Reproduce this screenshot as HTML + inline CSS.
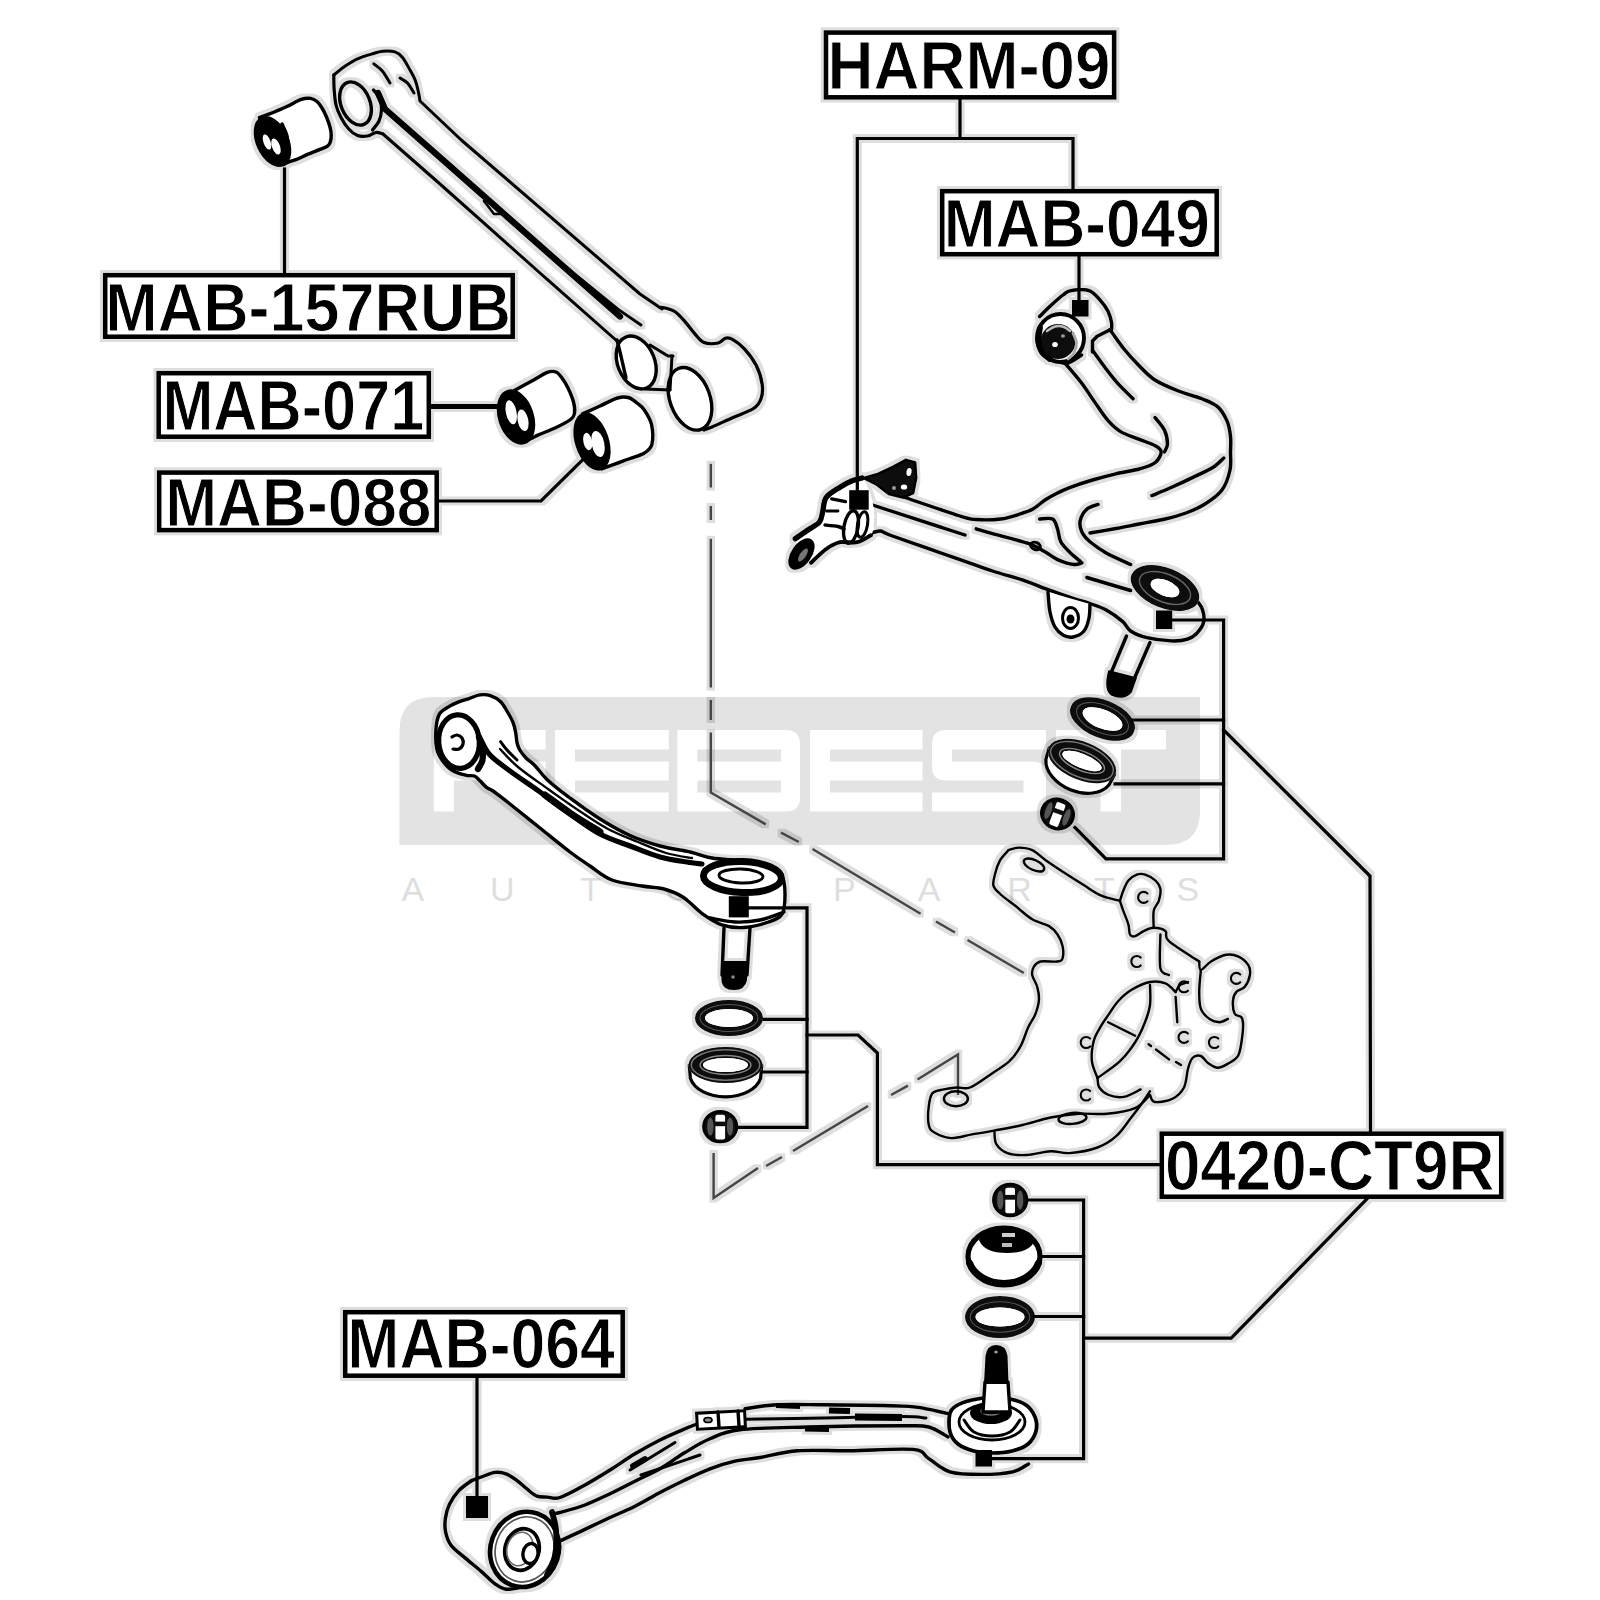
<!DOCTYPE html>
<html><head><meta charset="utf-8"><title>FEBEST diagram</title>
<style>html,body{margin:0;padding:0;background:#fff;width:1600px;height:1600px;overflow:hidden}
svg{display:block;font-family:"Liberation Sans",sans-serif}</style></head>
<body><svg width="1600" height="1600" viewBox="0 0 1600 1600">
<defs><filter id="halo" x="0" y="0" width="1600" height="1600" filterUnits="userSpaceOnUse">
<feMorphology in="SourceAlpha" operator="dilate" radius="2.5" result="d"/>
<feFlood flood-color="#000" flood-opacity="0.13"/>
<feComposite in2="d" operator="in" result="h"/>
<feMerge><feMergeNode in="h"/><feMergeNode in="SourceGraphic"/></feMerge>
</filter></defs>
<rect width="1600" height="1600" fill="#fff"/>
<path d="M399.5,845 L399.5,731 Q399.5,697 433.5,697 L1200,697 L1200,811 Q1200,845 1166,845 Z" fill="#e3e3e3"/>
<path d="M433.8,730 H545.6 V749.5 H453.8 V761.5 H545.6 V780.5 H453.8 V811.5 H433.8Z" fill="#fff"/>
<path d="M555,730 H668.8 V749.5 H575 V761.5 H668.8 V780.5 H575 V792.5 H668.8 V811.5 H555 Z" fill="#fff"/>
<path d="M810,730 H922.5 V749.5 H830 V761.5 H922.5 V780.5 H830 V792.5 H922.5 V811.5 H810 Z" fill="#fff"/>
<path d="M677.4,730 H786 Q800,730 800,744 V797.5 Q800,811.5 786,811.5 H677.4 Z M697.4,749.5 V761.5 H781 V749.5 Z M697.4,780.5 V792.5 H781 V780.5 Z" fill="#fff" fill-rule="evenodd"/>
<path d="M946,730 H1046 V749.5 H952 V761.5 H1032 Q1046,761.5 1046,775.5 V797.5 Q1046,811.5 1032,811.5 H932 V792.5 H1023.5 V780.5 H946 Q932,780.5 932,766.5 V744 Q932,730 946,730 Z" fill="#fff"/>
<path d="M1056,730 H1166 V749.5 H1121 V811.5 H1100.5 V749.5 H1056Z" fill="#fff"/>
<text x="401.4" y="901.4" font-family="Liberation Sans" font-size="34" fill="#dedede">A</text>
<text x="489.9" y="901.4" font-family="Liberation Sans" font-size="34" fill="#dedede">U</text>
<text x="580.2" y="901.4" font-family="Liberation Sans" font-size="34" fill="#dedede">T</text>
<text x="665.2" y="901.4" font-family="Liberation Sans" font-size="34" fill="#dedede">O</text>
<text x="833.1" y="901.4" font-family="Liberation Sans" font-size="34" fill="#dedede">P</text>
<text x="917.8" y="901.4" font-family="Liberation Sans" font-size="34" fill="#dedede">A</text>
<text x="1007.2" y="901.4" font-family="Liberation Sans" font-size="34" fill="#dedede">R</text>
<text x="1093.9" y="901.4" font-family="Liberation Sans" font-size="34" fill="#dedede">T</text>
<text x="1176.4" y="901.4" font-family="Liberation Sans" font-size="34" fill="#dedede">S</text>
<g filter="url(#halo)">
<path d="M710.8,463.8 L710.8,487.5" stroke="#444" stroke-width="2.4" fill="none"/>
<path d="M710.8,506 L710.8,520" stroke="#444" stroke-width="2.4" fill="none"/>
<path d="M710.8,538.8 L710.8,687.5" stroke="#444" stroke-width="2.4" fill="none"/>
<path d="M710.8,700 L710.8,720" stroke="#444" stroke-width="2.4" fill="none"/>
<path d="M710.8,732.5 L710.8,792.5 L765.8,824.4" stroke="#444" stroke-width="2.4" fill="none"/>
<path d="M781,832.6 L798.8,842" stroke="#444" stroke-width="2.4" fill="none"/>
<path d="M812.5,849 L920.6,913.8" stroke="#444" stroke-width="2.4" fill="none"/>
<path d="M936,921.5 L955,932.5" stroke="#444" stroke-width="2.4" fill="none"/>
<path d="M967.5,940 L1023.8,973" stroke="#444" stroke-width="2.4" fill="none"/>
<path d="M713.6,1153 L713.6,1198 L758,1168" stroke="#444" stroke-width="2.4" fill="none"/>
<path d="M766,1166 L782,1157" stroke="#444" stroke-width="2.4" fill="none"/>
<path d="M793,1151 L868,1106" stroke="#444" stroke-width="2.4" fill="none"/>
<path d="M891,1095 L908,1085.6" stroke="#444" stroke-width="2.4" fill="none"/>
<path d="M917.5,1079.4 L958,1054.4 L958,1095" stroke="#444" stroke-width="2.4" fill="none"/>
<path d="M471.6,1480.6 C473.4,1479.9 478.7,1477.9 482.6,1476.5 C486.5,1475.1 491.1,1472.9 495,1472.4 C498.9,1471.9 502.3,1472.4 506,1473.8 C509.7,1475.1 513.8,1478.3 517,1480.6 C520.2,1482.9 522,1485 525.2,1487.5 C528.5,1490 532.6,1494.2 536.2,1495.8 C539.9,1497.3 543.3,1496.8 547.2,1497.1 C551.2,1497.4 553.7,1499.5 560,1497.5 C566.3,1495.5 576.7,1489.6 585,1485 C593.3,1480.4 601.7,1475.2 610,1470 C618.3,1464.8 626.7,1458.8 635,1453.8 C643.3,1448.8 651.7,1444.2 660,1440 C668.3,1435.8 678.8,1431.4 685,1428.8 C691.2,1426.1 695,1424.8 697,1424" fill="none" stroke="#000" stroke-width="3.4" stroke-linecap="round" stroke-linejoin="round" />
<path d="M471.6,1480.6 C469.5,1482.2 462.9,1486.3 459.2,1490.2 C455.6,1494.2 451.9,1499.4 449.6,1504 C447.3,1508.6 446.2,1513.2 445.5,1517.8 C444.8,1522.3 444.6,1526.9 445.5,1531.5 C446.4,1536.1 447.8,1540.9 451,1545.2 C454.2,1549.6 459.7,1553.2 464.8,1557.6 C469.8,1562 476.2,1567 481.2,1571.4 C486.3,1575.8 490.9,1580.8 495,1583.8 C499.1,1586.7 501.4,1588.7 506,1589.2 C510.6,1589.8 519.8,1587.4 522.5,1587" fill="none" stroke="#000" stroke-width="3.4" stroke-linecap="round" stroke-linejoin="round" />
<path d="M745,1408.8 C750.2,1408.1 763.4,1405.5 776.5,1404.8 C789.6,1404.1 802.8,1404.6 823.8,1404.8 C844.8,1405 885.4,1405.4 902.5,1406.1 C919.6,1406.8 918.2,1407.4 926.1,1408.8 C934,1410.1 945.8,1413.1 949.8,1414" fill="none" stroke="#000" stroke-width="3.4" stroke-linecap="round" stroke-linejoin="round" />
<path d="M554,1513.6 C555,1513.4 554.8,1513.9 560,1512.5 C565.2,1511.1 576.7,1508.1 585,1505 C593.3,1501.9 601.7,1497.7 610,1493.8 C618.3,1489.8 626.7,1485.4 635,1481.2 C643.3,1477.1 651.7,1473.5 660,1468.8 C668.3,1464 676.7,1457.5 685,1452.5 C693.3,1447.5 700.9,1442.5 710,1438.8 C719.1,1435 723.4,1431.7 739.8,1429.8 C756.1,1427.8 780.9,1427.7 808,1427 C835.1,1426.3 882.4,1425.8 902.5,1425.8 C922.6,1425.8 921.2,1425.1 928.8,1427 C936.3,1428.9 944.8,1435.3 948,1437" fill="none" stroke="#000" stroke-width="3.4" stroke-linecap="round" stroke-linejoin="round" />
<path d="M559.6,1541.1 C562.6,1539.7 569.1,1536.8 577.5,1532.9 C585.9,1529 600.4,1521.9 610,1517.5 C619.6,1513.1 626.7,1510.4 635,1506.2 C643.3,1502.1 651.7,1496.9 660,1492.5 C668.3,1488.1 676.7,1484 685,1480 C693.3,1476 701.7,1471.9 710,1468.8 C718.3,1465.6 726.7,1463.1 735,1461.2 C743.3,1459.4 749.6,1459.2 760,1457.5 C770.4,1455.8 782.5,1451.9 797.5,1450.8 C812.5,1449.6 830.8,1451 850,1450.8 C869.2,1450.5 899.9,1448.1 913,1449.4 C926.1,1450.7 922.6,1454.9 928.8,1458.6 C934.9,1462.3 941,1469.1 949.8,1471.8 C958.5,1474.4 970.7,1474.4 981.2,1474.4 C991.7,1474.4 1004.8,1473.5 1012.7,1471.8 C1020.6,1470 1025.9,1465.2 1028.5,1463.9" fill="none" stroke="#000" stroke-width="3.4" stroke-linecap="round" stroke-linejoin="round" />
<path d="M745,1419.2 C758.1,1419 797.5,1418.4 823.8,1418 C850,1417.6 885.5,1416.6 902.5,1416.6 C919.5,1416.6 922.1,1417.8 926,1418" fill="none" stroke="#000" stroke-width="3" stroke-linecap="round" stroke-linejoin="round" />
<path d="M776,1406 L800,1407" fill="none" stroke="#000" stroke-width="4" stroke-linejoin="round" stroke-linecap="butt"/>
<path d="M829,1410.5 L850,1411" fill="none" stroke="#000" stroke-width="5.8" stroke-linejoin="round" stroke-linecap="butt"/>
<path d="M855,1417 L902,1417.5" fill="none" stroke="#000" stroke-width="6.9" stroke-linejoin="round" stroke-linecap="butt"/>
<path d="M805,1429 L829,1429.5" fill="none" stroke="#000" stroke-width="5.2" stroke-linejoin="round" stroke-linecap="butt"/>
<path d="M630,1470 L675,1442.5" fill="none" stroke="#000" stroke-width="3" stroke-linecap="round" stroke-linejoin="round" />
<path d="M641,1475 L700,1455" fill="none" stroke="#000" stroke-width="3" stroke-linecap="round" stroke-linejoin="round" />
<path d="M633,1466 L645,1459" fill="none" stroke="#000" stroke-width="5.8" stroke-linecap="round" stroke-linejoin="round" />
<rect x="697" y="1412" width="48" height="16" fill="#fff" stroke="#000" stroke-width="3" transform="rotate(-3 721 1420)"/>
<path d="M718,1412 L719,1427" fill="none" stroke="#000" stroke-width="3.4" stroke-linecap="round" stroke-linejoin="round" />
<path d="M738,1411 L739,1426" fill="none" stroke="#000" stroke-width="3.4" stroke-linecap="round" stroke-linejoin="round" />
<ellipse cx="708" cy="1420" rx="4" ry="2.5" transform="rotate(0 708 1420)" fill="#888" stroke="#000" stroke-width="1.7"/>
<ellipse cx="524.6" cy="1549.4" rx="34" ry="38" transform="rotate(20 524.6 1549.4)" fill="#fff" stroke="#000" stroke-width="4.6"/>
<ellipse cx="524.6" cy="1549.4" rx="29" ry="33" transform="rotate(20 524.6 1549.4)" fill="none" stroke="#555" stroke-width="1.7"/>
<ellipse cx="522" cy="1549.5" rx="17" ry="21" transform="rotate(15 522 1549.5)" fill="#fff" stroke="#000" stroke-width="3.7"/>
<ellipse cx="520" cy="1549" rx="13" ry="17" transform="rotate(15 520 1549)" fill="none" stroke="#666" stroke-width="1.6"/>
<ellipse cx="530.5" cy="1553.5" rx="7.5" ry="10" transform="rotate(10 530.5 1553.5)" fill="#fff" stroke="#000" stroke-width="3.4"/>
<path d="M552,1512 C552.7,1515 555.5,1522.7 556,1530 C556.5,1537.3 556.5,1548.5 555,1556 C553.5,1563.5 548.3,1571.8 547,1575" fill="none" stroke="#000" stroke-width="5.8" stroke-linecap="round" stroke-linejoin="round" />
<path d="M949.8,1414 C948.8,1418.3 948.6,1427 950,1432 C951.4,1437 954,1440.8 958,1444 C962,1447.2 968.3,1449.5 974,1451 C979.7,1452.5 985.7,1453 992,1453 C998.3,1453 1006,1452.5 1012,1451 C1018,1449.5 1024,1447.3 1028,1444 C1032,1440.7 1034.8,1435.5 1036,1431 C1037.2,1426.5 1036.7,1421.3 1035,1417 C1033.3,1412.7 1030.2,1408 1026,1405 C1021.8,1402 1015.7,1400.2 1010,1399 C1004.3,1397.8 998.3,1397.3 992,1397.5 C985.7,1397.7 978,1398.6 972,1400 C966,1401.4 959.7,1403.7 956,1406 C952.3,1408.3 950.8,1409.7 949.8,1414Z" fill="#fff" stroke="#000" stroke-width="3.7" stroke-linecap="round" stroke-linejoin="round" />
<ellipse cx="992" cy="1422" rx="33" ry="18" transform="rotate(0 992 1422)" fill="none" stroke="#000" stroke-width="2.8"/>
<path d="M964,1420 C965.7,1422 969.3,1429.3 974,1432 C978.7,1434.7 986,1436 992,1436 C998,1436 1005.3,1434.7 1010,1432 C1014.7,1429.3 1018.3,1422 1020,1420" fill="none" stroke="#000" stroke-width="3" stroke-linecap="round" stroke-linejoin="round" />
<ellipse cx="991" cy="1413" rx="21" ry="11" transform="rotate(0 991 1413)" fill="#000" stroke="#000" stroke-width="0"/>
<ellipse cx="991" cy="1411" rx="10" ry="4" transform="rotate(0 991 1411)" fill="none" stroke="#777" stroke-width="1.4"/>
<path d="M983,1412 L985,1382 L1008,1382 L1010,1412 Z" fill="#fff" stroke="#000" stroke-width="3.4" stroke-linecap="round" stroke-linejoin="round" />
<path d="M984,1384 L985.5,1356 Q987,1345 996,1345 Q1006,1345 1007.5,1356 L1008.5,1384 Z" fill="#000" stroke="#000" stroke-width="0" stroke-linecap="round" stroke-linejoin="round" />
<ellipse cx="996" cy="1352" rx="1.8" ry="1.5" transform="rotate(0 996 1352)" fill="#999" stroke="#000" stroke-width="0"/>
<path d="M1008.6,850.1 C1010.3,849.7 1014.8,847.6 1018.7,847.6 C1022.6,847.6 1027.7,848 1032.2,850.1 C1036.7,852.2 1040.1,856.3 1045.7,860.2 C1051.3,864.2 1059.4,869.5 1065.9,873.8 C1072.4,878 1078.6,881.9 1084.5,885.6 C1090.4,889.3 1095.5,893.2 1101.4,895.7 C1107.3,898.2 1116.8,899.9 1119.9,900.8" fill="none" stroke="#000" stroke-width="2.4" stroke-linecap="round" stroke-linejoin="round" />
<path d="M1119.9,900.8 C1120.5,899.1 1121.9,894 1123.3,890.6 C1124.7,887.2 1126.2,883.2 1128.4,880.5 C1130.7,877.8 1134,875.6 1136.8,874.6 C1139.6,873.6 1142.2,873.6 1145.2,874.6 C1148.3,875.6 1152.9,878.1 1155.4,880.5 C1157.9,882.9 1159.8,885.5 1160.4,888.9 C1161,892.3 1159.9,897.1 1158.8,900.8 C1157.6,904.4 1154.5,906.4 1153.7,910.9 C1152.9,915.4 1153.7,924.9 1153.7,927.8" fill="none" stroke="#000" stroke-width="2.4" stroke-linecap="round" stroke-linejoin="round" />
<path d="M1119.9,900.8 C1120.5,902.4 1121.9,907 1123.3,910.9 C1124.7,914.8 1127.3,920.5 1128.4,924.4 C1129.5,928.3 1128.9,932.5 1130,934.5 C1131.1,936.5 1132.8,936.8 1135.1,936.2 C1137.4,935.6 1140.5,932.5 1143.6,931.1 C1146.7,929.7 1150,927.8 1153.7,927.8 C1157.4,927.8 1163,928.9 1165.5,931.1 C1168,933.4 1163.3,936.2 1168.9,941.2 C1174.5,946.3 1194.2,958.1 1199.2,961.5" fill="none" stroke="#000" stroke-width="2.4" stroke-linecap="round" stroke-linejoin="round" />
<path d="M1160.4,934.5 C1160.4,940.1 1159,961.5 1160.4,968.2 C1161.8,975 1167.5,973.9 1168.9,975" fill="none" stroke="#000" stroke-width="2.4" stroke-linecap="round" stroke-linejoin="round" />
<path d="M1199.2,961.5 C1199.5,962.9 1198.9,970 1200.9,970 C1202.9,970 1206.8,964 1211,961.5 C1215.2,959 1221.8,955.6 1226.2,954.8 C1230.8,953.9 1234.3,954.7 1238,956.4 C1241.7,958.1 1246.2,961.8 1248.2,964.9 C1250.2,968 1250.5,971.4 1249.9,975 C1249.3,978.6 1247,984 1244.8,986.8 C1242.5,989.6 1238.4,989.6 1236.4,991.9 C1234.4,994.1 1233.3,996.6 1233,1000.3 C1232.7,1003.9 1233.3,1011 1234.7,1013.8 C1236.1,1016.6 1240,1015.2 1241.4,1017.2 C1242.8,1019.2 1243.1,1021.4 1243.1,1025.6 C1243.1,1029.8 1242.2,1037.4 1241.4,1042.5 C1240.6,1047.6 1240,1052.6 1238,1056 C1236,1059.4 1233,1060.8 1229.6,1062.8 C1226.2,1064.7 1221.4,1067.8 1217.8,1067.8 C1214.2,1067.8 1210.5,1064.7 1207.7,1062.8 C1204.9,1060.8 1203.4,1056.8 1200.9,1056 C1198.4,1055.2 1194.7,1055.9 1192.5,1058 C1190.3,1060.1 1189.4,1063.8 1188,1068.8 C1186.6,1073.7 1186.6,1082.5 1184,1087.5 C1181.4,1092.5 1177.3,1096.3 1172.5,1098.8 C1167.7,1101.2 1158.8,1102.6 1155,1102 C1151.2,1101.4 1150.8,1096.2 1150,1095" fill="none" stroke="#000" stroke-width="2.4" stroke-linecap="round" stroke-linejoin="round" />
<path d="M1200.9,970 C1200.6,973.6 1199.2,985.4 1199.2,991.9 C1199.2,998.4 1199.2,1004.2 1200.9,1008.8 C1202.6,1013.2 1206.3,1016.6 1209.4,1018.9 C1212.5,1021.1 1216.4,1022.2 1219.5,1022.2 C1222.6,1022.2 1226.5,1019.5 1227.9,1018.9" fill="none" stroke="#000" stroke-width="2.4" stroke-linecap="round" stroke-linejoin="round" />
<path d="M1008.6,850.1 C1007.2,851.8 1002.4,856.3 1000.1,860.2 C997.9,864.2 996.2,869.5 995.1,873.8 C994,878 992.6,882.2 993.4,885.6 C994.2,889 996.5,890.6 1000.1,894 C1003.8,897.4 1009.9,901.6 1015.3,905.8 C1020.6,910 1026.6,915.9 1032.2,919.3 C1037.8,922.7 1044.9,923.6 1049.1,926.1 C1053.3,928.6 1055.2,931.1 1057.5,934.5 C1059.8,937.9 1061.8,942.4 1062.6,946.3 C1063.4,950.2 1063.4,955.6 1062.6,958.1 C1061.8,960.6 1061.2,960.9 1057.5,961.5 C1053.8,962.1 1044.5,960.6 1040.6,961.5 C1036.7,962.4 1035.3,964.4 1033.9,966.6 C1032.5,968.9 1031.6,971.6 1032.2,975 C1032.8,978.4 1036.1,982.6 1037.2,986.8 C1038.4,991 1039.3,995.6 1038.9,1000.3 C1038.5,1005 1036.8,1010.5 1035,1015 C1033.2,1019.5 1030.5,1022.3 1028.1,1027.5 C1025.7,1032.7 1023.7,1040.6 1020.6,1046.2 C1017.5,1051.9 1014.4,1056.6 1009.4,1061.2 C1004.4,1065.9 997.2,1070 990.6,1074.4 C984,1078.8 975.6,1085.3 970,1087.5 C964.4,1089.7 961.3,1087.2 956.9,1087.5 C952.5,1087.8 947.8,1088.5 943.8,1089.4 C939.7,1090.3 935,1090.3 932.5,1093.1 C930,1095.9 929.4,1100.9 928.8,1106.2 C928.1,1111.6 927.8,1120.6 928.8,1125 C929.7,1129.4 930.6,1130.3 934.4,1132.5 C938.1,1134.7 945,1137.8 951.2,1138.1 C957.5,1138.4 964.7,1135.7 971.9,1134.4 C979.1,1133.2 986,1132.2 994.4,1130.6 C1002.8,1129 1013.1,1127.2 1022.5,1125 C1031.9,1122.8 1041.2,1119.4 1050.6,1117.5 C1060,1115.6 1069.4,1114.4 1078.8,1113.8 C1088.1,1113.1 1097.5,1114.7 1106.9,1113.8 C1116.3,1112.8 1127.8,1111.2 1135,1108.1 C1142.2,1105 1147.5,1097.2 1150,1095" fill="none" stroke="#000" stroke-width="2.4" stroke-linecap="round" stroke-linejoin="round" />
<path d="M994.4,1130.6 C994.7,1132.8 994.1,1140 996.2,1143.8 C998.4,1147.5 1002.5,1151.2 1007.5,1153.1 C1012.5,1155 1019.1,1155.3 1026.2,1155 C1033.4,1154.7 1043.4,1151.6 1050.6,1151.2 C1057.8,1150.9 1061.6,1153.7 1069.4,1153.1 C1077.2,1152.5 1089.7,1150.3 1097.5,1147.5 C1105.3,1144.7 1110.6,1141.2 1116.2,1136.2 C1121.9,1131.2 1126.9,1123.1 1131.2,1117.5 C1135.6,1111.9 1139.4,1106.9 1142.5,1102.5 C1145.6,1098.1 1148.8,1093.1 1150,1091.2" fill="none" stroke="#000" stroke-width="2.4" stroke-linecap="round" stroke-linejoin="round" />
<ellipse cx="1034" cy="865" rx="11" ry="5" transform="rotate(25 1034 865)" fill="none" stroke="#000" stroke-width="2.4"/>
<ellipse cx="1072.5" cy="1118.4" rx="14" ry="5.5" transform="rotate(-5 1072.5 1118.4)" fill="none" stroke="#000" stroke-width="2.4"/>
<ellipse cx="955.9" cy="1098.8" rx="12" ry="7.5" transform="rotate(0 955.9 1098.8)" fill="none" stroke="#000" stroke-width="2.4"/>
<path d="M1097.5,1078 C1096.6,1075.2 1092.5,1067.5 1091.9,1061.2 C1091.3,1055 1092.2,1046.5 1093.8,1040.6 C1095.3,1034.7 1098.8,1030 1101.2,1025.6 C1103.8,1021.2 1105.9,1018.5 1108.8,1014.4 C1111.6,1010.3 1114.3,1005.3 1118.1,1001.2 C1121.8,997.2 1125.9,993.2 1131.2,990 C1136.6,986.8 1144.3,983.1 1150,982 C1155.7,980.9 1161.2,981.7 1165.5,983.4 C1169.8,985.1 1173.9,990.6 1175.6,992" fill="none" stroke="#000" stroke-width="2.4" stroke-linecap="round" stroke-linejoin="round" />
<path d="M1097.5,1078 C1101.2,1075.2 1113.8,1067.2 1120,1061.2 C1126.2,1055.3 1130.9,1048.8 1135,1042.5 C1139.1,1036.2 1141.9,1030 1144.4,1023.8 C1146.9,1017.5 1149.1,1011.5 1150,1005 C1150.9,998.5 1150,988.3 1150,985" fill="none" stroke="#000" stroke-width="2.4" stroke-linecap="round" stroke-linejoin="round" />
<path d="M1097.5,1078 C1097.8,1079.6 1097.5,1084.7 1099.4,1087.5 C1101.3,1090.3 1104.7,1093.4 1108.8,1095 C1112.8,1096.6 1118.4,1097.8 1123.8,1096.9 C1129.1,1096 1137.8,1090.7 1140.6,1089.4" fill="none" stroke="#000" stroke-width="2.4" stroke-linecap="round" stroke-linejoin="round" />
<path d="M1108.1,1022.2 L1135.1,1035.8" fill="none" stroke="#000" stroke-width="2.4" stroke-linecap="round" stroke-linejoin="round" />
<path d="M1148.6,1044.2 L1151,1046" fill="none" stroke="#000" stroke-width="2.4" stroke-linecap="round" stroke-linejoin="round" />
<path d="M1156,1049.5 L1169,1059.4" fill="none" stroke="#000" stroke-width="2.4" stroke-linecap="round" stroke-linejoin="round" />
<path d="M1176,1062 L1181,1065" fill="none" stroke="#000" stroke-width="2.4" stroke-linecap="round" stroke-linejoin="round" />
<path d="M1175.6,997 L1177.3,1022.2" fill="none" stroke="#000" stroke-width="2.4" stroke-linecap="round" stroke-linejoin="round" />
<path d="M1175.6,992 C1176.3,990.8 1177.9,986.7 1180,985 C1182.1,983.3 1186.7,982.5 1188,982" fill="none" stroke="#000" stroke-width="2.4" stroke-linecap="round" stroke-linejoin="round" />
<path d="M1147.5,893.5 A5.5,5.5 0 1 0 1147.5,901.3" fill="none" stroke="#000" stroke-width="2.1" stroke-linecap="round"/>
<path d="M1240.3,974.5 A5.5,5.5 0 1 0 1240.3,982.3" fill="none" stroke="#000" stroke-width="2.1" stroke-linecap="round"/>
<path d="M1140.7,957.6 A5.5,5.5 0 1 0 1140.7,965.4" fill="none" stroke="#000" stroke-width="2.1" stroke-linecap="round"/>
<path d="M1187.9,1033.5 A5.5,5.5 0 1 0 1187.9,1041.3" fill="none" stroke="#000" stroke-width="2.1" stroke-linecap="round"/>
<path d="M1090.1,1038.6 A5.5,5.5 0 1 0 1090.1,1046.4" fill="none" stroke="#000" stroke-width="2.1" stroke-linecap="round"/>
<path d="M1090.1,1091.1 A5.5,5.5 0 1 0 1090.1,1098.9" fill="none" stroke="#000" stroke-width="2.1" stroke-linecap="round"/>
<path d="M1218.3,1038.6 A5.5,5.5 0 1 0 1218.3,1046.4" fill="none" stroke="#000" stroke-width="2.1" stroke-linecap="round"/>
<path d="M1187.9,982.9 A5.5,5.5 0 1 0 1187.9,990.7" fill="none" stroke="#000" stroke-width="2.1" stroke-linecap="round"/>
<path d="M695,1018 A34,18 0 1 0 763,1018 A34,18 0 1 0 695,1018 Z" fill="#fff"/>
<path d="M695,1018 A34,18 0 1 0 763,1018 A34,18 0 1 0 695,1018 Z M705,1018 A24,9 0 1 0 753,1018 A24,9 0 1 0 705,1018 Z" fill="#0a0a0a" fill-rule="evenodd"/>
<path d="M705,1018 A24,9 0 1 0 753,1018 A24,9 0 1 0 705,1018 Z" fill="#fff"/>
<ellipse cx="729" cy="1018" rx="29" ry="13.5" transform="rotate(0 729 1018)" fill="none" stroke="#555" stroke-width="1.1"/>
<g transform="translate(725.5 1065) rotate(0)">
<path d="M-36.2,0 L-35.1,13.3 A35.9,23.6 0 0 0 35.1,13.3 L36.2,0 Z" fill="#fff" stroke="#000" stroke-width="3.2" stroke-linejoin="round"/>
<path d="M-37,0 A37,18 0 1 0 37,0 A37,18 0 1 0 -37,0 Z" fill="#fff"/>
<path d="M-37,0 A37,18 0 1 0 37,0 A37,18 0 1 0 -37,0 Z M-22.5,0 A22.5,7 0 1 0 22.5,0 A22.5,7 0 1 0 -22.5,0 Z" fill="#0a0a0a" fill-rule="evenodd"/>
<path d="M-22.5,0 A22.5,7 0 1 0 22.5,0 A22.5,7 0 1 0 -22.5,0 Z" fill="#fff"/>
<ellipse cx="0" cy="0" rx="34.2" ry="15.2" transform="rotate(0 0 0)" fill="none" stroke="#777" stroke-width="1.4"/>
<ellipse cx="0" cy="0" rx="25.5" ry="9.5" transform="rotate(0 0 0)" fill="none" stroke="#888" stroke-width="1.4"/>
</g>
<g transform="translate(720.2 1126.6) rotate(0)">
<ellipse cx="0" cy="0" rx="16.9" ry="15.5" transform="rotate(0 0 0)" fill="#080808" stroke="#000" stroke-width="2.3"/>
<ellipse cx="-9.8" cy="0" rx="3.2" ry="9.1" transform="rotate(0 -9.8 0)" fill="#555" stroke="#000" stroke-width="0"/>
<ellipse cx="9.8" cy="0" rx="3.2" ry="9.1" transform="rotate(0 9.8 0)" fill="#555" stroke="#000" stroke-width="0"/>
<rect x="-4.8" y="-11.9" width="9.7" height="24.8" rx="2" fill="#fff"/>
<rect x="-6.3" y="-5" width="12.5" height="4.6" fill="#111"/>
</g>
<path d="M1071,706.3 A34,18 22 1 0 1134,731.7 A34,18 22 1 0 1071,706.3 Z" fill="#fff"/>
<path d="M1071,706.3 A34,18 22 1 0 1134,731.7 A34,18 22 1 0 1071,706.3 Z M1083,711.1 A21,9.5 22 1 0 1122,726.9 A21,9.5 22 1 0 1083,711.1 Z" fill="#0a0a0a" fill-rule="evenodd"/>
<path d="M1083,711.1 A21,9.5 22 1 0 1122,726.9 A21,9.5 22 1 0 1083,711.1 Z" fill="#fff"/>
<ellipse cx="1102.5" cy="719" rx="27.5" ry="13.8" transform="rotate(22 1102.5 719)" fill="none" stroke="#555" stroke-width="1.1"/>
<g transform="translate(1082 761) rotate(22)">
<path d="M-35.2,0 L-34.1,11.9 A34.9,24.3 0 0 0 34.1,11.9 L35.2,0 Z" fill="#fff" stroke="#000" stroke-width="3.2" stroke-linejoin="round"/>
<path d="M-36,0 A36,19 0 1 0 36,0 A36,19 0 1 0 -36,0 Z" fill="#fff"/>
<path d="M-36,0 A36,19 0 1 0 36,0 A36,19 0 1 0 -36,0 Z M-21,0 A21,7 0 1 0 21,0 A21,7 0 1 0 -21,0 Z" fill="#0a0a0a" fill-rule="evenodd"/>
<path d="M-21,0 A21,7 0 1 0 21,0 A21,7 0 1 0 -21,0 Z" fill="#fff"/>
<ellipse cx="0" cy="0" rx="33.2" ry="16.2" transform="rotate(0 0 0)" fill="none" stroke="#777" stroke-width="1.4"/>
<ellipse cx="0" cy="0" rx="24" ry="9.5" transform="rotate(0 0 0)" fill="none" stroke="#888" stroke-width="1.4"/>
</g>
<g transform="translate(1057.5 814) rotate(20)">
<ellipse cx="0" cy="0" rx="16.5" ry="15" transform="rotate(0 0 0)" fill="#080808" stroke="#000" stroke-width="2.3"/>
<ellipse cx="-9.6" cy="0" rx="3.1" ry="8.8" transform="rotate(0 -9.6 0)" fill="#555" stroke="#000" stroke-width="0"/>
<ellipse cx="9.6" cy="0" rx="3.1" ry="8.8" transform="rotate(0 9.6 0)" fill="#555" stroke="#000" stroke-width="0"/>
<rect x="-4.7" y="-11.5" width="9.5" height="24" rx="2" fill="#fff"/>
<rect x="-6.1" y="-4.8" width="12.2" height="4.5" fill="#111"/>
</g>
<g transform="translate(1010.2 1200) rotate(0)">
<ellipse cx="0" cy="0" rx="17" ry="16" transform="rotate(0 0 0)" fill="#080808" stroke="#000" stroke-width="2.3"/>
<ellipse cx="-9.9" cy="0" rx="3.2" ry="9.4" transform="rotate(0 -9.9 0)" fill="#555" stroke="#000" stroke-width="0"/>
<ellipse cx="9.9" cy="0" rx="3.2" ry="9.4" transform="rotate(0 9.9 0)" fill="#555" stroke="#000" stroke-width="0"/>
<rect x="-4.9" y="-12.2" width="9.7" height="25.5" rx="2" fill="#fff"/>
<rect x="-6.3" y="-5.1" width="12.6" height="4.8" fill="#111"/>
</g>
<ellipse cx="1004" cy="1256.5" rx="36" ry="28.5" transform="rotate(0 1004 1256.5)" fill="#fff" stroke="#000" stroke-width="5.2"/>
<path d="M969.5,1263 A36,28.5 0 0 0 1038.5,1263" fill="none" stroke="#000" stroke-width="6.9" stroke-linecap="round" stroke-linejoin="round" />
<path d="M979,1240 Q983,1228 1007,1227.5 Q1031,1228 1035,1240 Q1030,1253 1007,1253 Q984,1253 979,1240 Z" fill="#050505" stroke="#000" stroke-width="0" stroke-linecap="round" stroke-linejoin="round" />
<rect x="1002" y="1233" width="13" height="4" fill="#ccc"/>
<rect x="1002" y="1243" width="10" height="4" fill="#bbb"/>
<path d="M965,1317 A35,21 0 1 0 1035,1317 A35,21 0 1 0 965,1317 Z" fill="#fff"/>
<path d="M965,1317 A35,21 0 1 0 1035,1317 A35,21 0 1 0 965,1317 Z M975.5,1317 A24.5,9.5 0 1 0 1024.5,1317 A24.5,9.5 0 1 0 975.5,1317 Z" fill="#0a0a0a" fill-rule="evenodd"/>
<path d="M975.5,1317 A24.5,9.5 0 1 0 1024.5,1317 A24.5,9.5 0 1 0 975.5,1317 Z" fill="#fff"/>
<ellipse cx="1000" cy="1317" rx="29.8" ry="15.2" transform="rotate(0 1000 1317)" fill="none" stroke="#555" stroke-width="1.1"/>
<path d="M439.4,714.1 C441.6,710.3 445.7,708.7 449,706.6 C452.3,704.5 455.9,703.1 459.4,701.7 C462.8,700.3 466.3,699.4 469.7,698.3 C473.1,697.2 476.6,695.3 480,694.9 C483.4,694.5 486.9,694.5 490.3,695.6 C493.7,696.7 497.7,699 500.6,701.7 C503.5,704.4 505.4,708.5 507.5,712 C509.6,715.5 511.6,718.9 513,722.4 C514.4,725.9 515,729.3 515.7,732.7 C516.4,736.1 516.4,740.1 517.1,743 C517.8,745.9 518.3,747.5 519.8,750 C521.3,752.5 523.5,755.4 526,758 C528.5,760.6 531.4,762 535,765.7 C538.6,769.4 541.7,774.6 547.5,780 C553.3,785.4 561.2,791.5 570,798 C578.8,804.5 590,812.8 600,819 C610,825.2 620,831 630,835.5 C640,840 650,843.2 660,846 C670,848.8 681.3,850 690,852 C698.7,854 703.3,856.5 712,858 C720.7,859.5 732.3,859.8 742,861 C751.7,862.2 763.3,862.5 770,865 C776.7,867.5 779.5,871.1 782,876 C784.5,880.9 785,888.2 785,894.5 C785,900.8 785,909.2 782.2,913.8 C779.5,918.3 774.9,919.7 768.5,922 C762.1,924.3 751.5,927 743.8,927.5 C736,928 728.6,927 721.8,924.8 C714.9,922.5 708.9,918.3 702.5,913.8 C696.1,909.2 689.7,901.4 683.2,897.2 C676.8,893.1 670.9,890.9 664,889 C657.1,887.1 650.7,887.5 642,886 C633.3,884.5 620.7,883.3 612,880 C603.3,876.7 597,870.7 590,866 C583,861.3 578.3,858.3 570,852 C561.7,845.7 550,836 540,828 C530,820 517.8,810.2 510,804 C502.2,797.8 496.9,793.7 493,791 C489.1,788.3 489.1,789.4 486.9,787.7 C484.7,786 482.1,782.8 480,780.8 C477.9,778.8 476.8,776.9 474.5,776 C472.2,775.1 469.9,776.2 466.2,775.3 C462.5,774.4 456.5,773 452.5,770.5 C448.5,768 444.8,763.9 442.2,760.2 C439.6,756.5 437.7,753.7 436.7,748.5 C435.7,743.3 435.6,734.9 436,729.2 C436.4,723.5 437.2,717.9 439.4,714.1Z" fill="#fff" stroke="#000" stroke-width="3.4" stroke-linecap="round" stroke-linejoin="round" />
<path d="M481,740 C482.5,742.5 485.2,749.8 490,755 C494.8,760.2 501.7,764.8 510,771 C518.3,777.2 530,784.8 540,792 C550,799.2 560,807 570,814 C580,821 590,828.7 600,834 C610,839.3 620,842.2 630,846 C640,849.8 650,854.2 660,857 C670,859.8 683,861.3 690,862.5 C697,863.7 700,863.8 702,864" fill="none" stroke="#000" stroke-width="5.2" stroke-linecap="round" stroke-linejoin="round" />
<path d="M500,749 C503,752 510,760.3 518,767 C526,773.7 538,781.8 548,789 C558,796.2 568,803.3 578,810 C588,816.7 598,823.7 608,829 C618,834.3 628.3,838 638,842 C647.7,846 657,850.3 666,853 C675,855.7 687.7,857.2 692,858" fill="none" stroke="#000" stroke-width="2.3" stroke-linecap="round" stroke-linejoin="round" />
<path d="M545,795 C549.2,798 560.8,806.8 570,813 C579.2,819.2 595,828.8 600,832" fill="none" stroke="#000" stroke-width="6.9" stroke-linecap="round" stroke-linejoin="round" />
<path d="M500.6,741.6 C501.7,743 504.3,746.9 507,750 C509.7,753.1 515.3,758.3 517,760" fill="none" stroke="#000" stroke-width="3" stroke-linecap="round" stroke-linejoin="round" />
<ellipse cx="459" cy="741.6" rx="20.3" ry="26.8" transform="rotate(-5 459 741.6)" fill="#fff" stroke="#000" stroke-width="5.2"/>
<path d="M452,737 C452.8,736.7 455.3,734.8 457,735 C458.7,735.2 461,736.5 462,738 C463,739.5 463.5,742.2 463,744 C462.5,745.8 460.7,748.2 459,749 C457.3,749.8 454,749 453,749" fill="none" stroke="#000" stroke-width="3.2" stroke-linecap="round" stroke-linejoin="round" />
<path d="M479,737 C479.6,738.8 481.9,744.2 482.5,748 C483.1,751.8 483.2,756.5 482.5,760 C481.8,763.5 478.8,767.5 478,769" fill="none" stroke="#000" stroke-width="6.3" stroke-linecap="round" stroke-linejoin="round" />
<ellipse cx="742.4" cy="877" rx="39" ry="15.5" transform="rotate(2 742.4 877)" fill="#fff" stroke="#000" stroke-width="6.9"/>
<ellipse cx="741" cy="876" rx="22" ry="7" transform="rotate(2 741 876)" fill="#fff" stroke="#000" stroke-width="2.9"/>
<path d="M710,918 C714.2,918.7 726.7,921.7 735,922 C743.3,922.3 751.8,921.7 760,920 C768.2,918.3 780,913.3 784,912" fill="none" stroke="#000" stroke-width="3.4" stroke-linecap="round" stroke-linejoin="round" />
<path d="M724,928 L722,975" fill="none" stroke="#000" stroke-width="3.4" stroke-linecap="round" stroke-linejoin="round" />
<path d="M750,928 L747,975" fill="none" stroke="#000" stroke-width="3.4" stroke-linecap="round" stroke-linejoin="round" />
<path d="M721,961 L747.5,961 L747,980 Q745,990 734,990 Q722,990 721.5,980 Z" fill="#000" stroke="#000" stroke-width="0" stroke-linecap="round" stroke-linejoin="round" />
<ellipse cx="733" cy="977" rx="1.8" ry="1.8" transform="rotate(0 733 977)" fill="#888" stroke="#000" stroke-width="0"/>
<path d="M1109.7,330 C1110,330.3 1108.9,328.5 1111.2,331.6 C1113.6,334.7 1119.1,343 1123.8,348.8 C1128.4,354.5 1134.2,360.8 1139.4,366 C1144.6,371.2 1148.5,375.8 1155,380 C1161.5,384.2 1170.6,387.9 1178.4,391 C1186.2,394.1 1195.4,396.1 1201.9,398.8 C1208.4,401.4 1213.3,403 1217.5,406.6 C1221.7,410.2 1224.7,415.7 1226.9,420.6 C1229.1,425.5 1229.9,431 1230.5,436.2 C1231.1,441.5 1230.6,446.4 1230.5,452 C1230.4,457.6 1231.4,463.7 1230,470 C1228.6,476.3 1226.2,484.3 1222,490 C1217.8,495.7 1211,500.2 1205,504 C1199,507.8 1193,510.4 1186,513 C1179,515.6 1170.8,517.7 1163,519.5 C1155.2,521.3 1146.8,522.5 1139,524 C1131.2,525.5 1124.2,527 1116,528.5 C1107.8,530 1094.3,532.2 1090,533" fill="none" stroke="#000" stroke-width="3.4" stroke-linecap="round" stroke-linejoin="round" />
<path d="M1066,364.4 C1068.6,367.5 1076.7,376.6 1081.6,383.1 C1086.5,389.6 1091.2,397.1 1095.6,403.4 C1100,409.6 1103.9,415.9 1108.1,420.6 C1112.3,425.3 1115.4,428.5 1120.6,431.6 C1125.8,434.7 1133.7,437.1 1139.4,439.4 C1145.1,441.7 1151.4,443.5 1155,445.6 C1158.6,447.7 1161.2,449 1161.2,451.9 C1161.2,454.8 1158.6,459.9 1155,462.8 C1151.4,465.7 1145.9,467.2 1139.4,469 C1132.9,470.8 1123.7,471.9 1115.9,473.8 C1108.1,475.6 1100.3,477.7 1092.5,480 C1084.7,482.3 1074.8,485.6 1069,487.8 C1063.2,490 1061.5,491 1057.5,493 C1053.5,495 1049.1,497.3 1045,500 C1040.9,502.7 1037.2,506.7 1033,509 C1028.8,511.3 1025.4,512.3 1020,514 C1014.6,515.7 1007.9,518.1 1000.6,519 C993.3,519.9 983,520 976.2,519.5 C969.5,519 971.9,519.7 960,516 C948.1,512.3 914.2,500.6 905,497.5" fill="none" stroke="#000" stroke-width="3.4" stroke-linecap="round" stroke-linejoin="round" />
<path d="M1092.5,350.3 C1094.6,353.2 1100.8,362 1105,367.5 C1109.2,373 1112.8,377.9 1117.5,383.1 C1122.2,388.3 1130.5,396.1 1133.1,398.8" fill="none" stroke="#000" stroke-width="3.4" stroke-linecap="round" stroke-linejoin="round" />
<path d="M1155,417.5 C1156.6,419.6 1162.3,425.6 1164.4,430 C1166.5,434.4 1167.5,440.4 1167.5,444 C1167.5,447.6 1164.9,450.6 1164.4,451.9" fill="none" stroke="#000" stroke-width="3.4" stroke-linecap="round" stroke-linejoin="round" />
<path d="M1151.9,495.6 C1155,494.3 1163.6,490.9 1170.6,487.8 C1177.6,484.7 1187,480.3 1194,476.9 C1201,473.5 1207.8,470.6 1212.8,467.5 C1217.8,464.4 1221.9,459.6 1223.8,458" fill="none" stroke="#000" stroke-width="3.4" stroke-linecap="round" stroke-linejoin="round" />
<path d="M1039.6,316.5 C1041.4,314.8 1046.4,309.6 1050.3,306 C1054.2,302.4 1059.5,297.6 1063,295 C1066.5,292.4 1066.7,291.3 1071,290.6 C1075.3,289.9 1084.1,289 1089,290.6 C1093.9,292.2 1097.1,296.9 1100.3,300.3 C1103.5,303.7 1106.1,307.6 1108,311.2 C1109.9,314.9 1110.9,319.1 1111.5,322.2 C1112.1,325.3 1111.5,328.7 1111.5,330" fill="none" stroke="#000" stroke-width="3.4" stroke-linecap="round" stroke-linejoin="round" />
<path d="M1051.9,358 C1054.2,358.9 1061,364 1066,363.5 C1071,363 1079,356.4 1081.6,355" fill="none" stroke="#000" stroke-width="3.4" stroke-linecap="round" stroke-linejoin="round" />
<path d="M1109.7,330 L1097.2,336.2 L1092.5,341 L1092.5,352" fill="none" stroke="#000" stroke-width="3.4" stroke-linecap="round" stroke-linejoin="round" />
<ellipse cx="1060.5" cy="338" rx="23.5" ry="24" transform="rotate(0 1060.5 338)" fill="#fff" stroke="#000" stroke-width="3.9"/>
<ellipse cx="1058" cy="341.5" rx="17.5" ry="17.5" transform="rotate(0 1058 341.5)" fill="#111" stroke="#000" stroke-width="0"/>
<path d="M1040,328 C1039.8,330 1038.2,336 1038.5,340 C1038.8,344 1040.1,348.8 1042,352 C1043.9,355.2 1048.7,357.8 1050,359" fill="none" stroke="#000" stroke-width="5.8" stroke-linecap="round" stroke-linejoin="round" />
<path d="M1047,331 C1048.3,330.2 1052.2,327.2 1055,326.5 C1057.8,325.8 1061.5,326.2 1064,327 C1066.5,327.8 1069,330.3 1070,331" fill="none" stroke="#bbb" stroke-width="2.5" stroke-linecap="round" stroke-linejoin="round" />
<path d="M1073,333 C1073.6,334.7 1076.3,339.7 1076.5,343 C1076.7,346.3 1075.4,350.3 1074,353 C1072.6,355.7 1069,358 1068,359" fill="none" stroke="#aaa" stroke-width="2.8" stroke-linecap="round" stroke-linejoin="round" />
<ellipse cx="1055" cy="344.5" rx="2.8" ry="2.6" transform="rotate(0 1055 344.5)" fill="#fff" stroke="#000" stroke-width="0"/>
<ellipse cx="1063" cy="336" rx="2" ry="1.8" transform="rotate(0 1063 336)" fill="#999" stroke="#000" stroke-width="0"/>
<path d="M976.2,528.8 C979,529.6 983.8,531.2 992.5,533.6 C1001.2,536 1019.6,540.4 1028.2,543.4 C1036.9,546.4 1039.6,548.8 1044.5,551.5 C1049.4,554.2 1052.6,557.4 1057.5,559.6 C1062.4,561.8 1069.7,564 1073.8,564.5 C1077.8,565 1080.5,563.2 1081.9,562.9" fill="none" stroke="#000" stroke-width="3.4" stroke-linecap="round" stroke-linejoin="round" />
<path d="M872.5,505 L965,535" fill="none" stroke="#000" stroke-width="3.4" stroke-linecap="round" stroke-linejoin="round" />
<path d="M1039.6,519 C1041.8,519 1049.6,517.4 1052.6,519 C1055.6,520.6 1056.1,525 1057.5,528.8 C1058.9,532.5 1058.6,537.7 1060.8,541.8 C1062.9,545.8 1067.2,549.8 1070.5,553 C1073.8,556.2 1078.6,559.9 1080.2,561.2" fill="none" stroke="#000" stroke-width="3.4" stroke-linecap="round" stroke-linejoin="round" />
<ellipse cx="1035.5" cy="546" rx="5" ry="3.5" transform="rotate(20 1035.5 546)" fill="none" stroke="#000" stroke-width="2.9"/>
<path d="M1098,504.4 C1096.1,505.2 1089.7,506.6 1086.8,509.2 C1083.8,511.9 1081.1,516.8 1080.2,520.6 C1079.4,524.4 1080.3,528.5 1081.9,532 C1083.5,535.5 1085.9,538.2 1090,541.8 C1094.1,545.2 1099.5,549.2 1106.2,553 C1113,556.8 1126.5,562.6 1130.6,564.5" fill="none" stroke="#000" stroke-width="3.4" stroke-linecap="round" stroke-linejoin="round" />
<path d="M867.5,535 C869.6,534.3 875.8,530.8 880,531 C884.2,531.2 879.2,531.2 892.5,536 C905.8,540.8 943.3,553.8 960,559.6 C976.7,565.4 981.7,567.5 992.5,571 C1003.3,574.5 1016.1,577.8 1025,580.8 C1033.9,583.7 1037.9,585.9 1046,588.9 C1054.1,591.9 1066.4,596.2 1073.8,598.6 C1081.1,601 1084.6,601.6 1090,603.5 C1095.4,605.4 1100.8,607 1106.2,610 C1111.7,613 1118.4,617.9 1122.5,621.4 C1126.6,624.9 1126.5,628.3 1130.6,631 C1134.7,633.7 1140.1,636 1146.9,637.6 C1153.7,639.2 1164.5,640.6 1171.2,640.9 C1178,641.2 1183.2,640.6 1187.5,639.2 C1191.8,637.9 1194.5,635.7 1197.2,632.8 C1200,629.8 1203,625.5 1203.8,621.4 C1204.5,617.3 1203.6,612.5 1202,608.4 C1200.4,604.3 1195.3,598.9 1194,597" fill="none" stroke="#000" stroke-width="3.4" stroke-linecap="round" stroke-linejoin="round" />
<path d="M1048,592 C1048.3,595.3 1048.8,606.2 1050,612 C1051.2,617.8 1052.8,623.2 1055,627 C1057.2,630.8 1060,633.3 1063,635 C1066,636.7 1069.5,637.7 1073,637 C1076.5,636.3 1081.3,634.2 1084,631 C1086.7,627.8 1088,622.5 1089,618 C1090,613.5 1089.8,606.3 1090,604" fill="#fff" stroke="#000" stroke-width="3.4" stroke-linecap="round" stroke-linejoin="round" />
<ellipse cx="1070.5" cy="618" rx="8" ry="10.5" transform="rotate(0 1070.5 618)" fill="none" stroke="#000" stroke-width="3"/>
<ellipse cx="1070.5" cy="619" rx="4" ry="4.5" transform="rotate(0 1070.5 619)" fill="#000" stroke="#000" stroke-width="0"/>
<path d="M1086.8,577.5 L1130.6,590.5" fill="none" stroke="#000" stroke-width="3.4" stroke-linecap="round" stroke-linejoin="round" />
<path d="M1131.6,574.5 A36,20 22 1 0 1198.4,601.5 A36,20 22 1 0 1131.6,574.5 Z" fill="#fff"/>
<path d="M1131.6,574.5 A36,20 22 1 0 1198.4,601.5 A36,20 22 1 0 1131.6,574.5 Z M1151.1,582.4 A15,7.5 22 1 0 1178.9,593.6 A15,7.5 22 1 0 1151.1,582.4 Z" fill="#0a0a0a" fill-rule="evenodd"/>
<path d="M1151.1,582.4 A15,7.5 22 1 0 1178.9,593.6 A15,7.5 22 1 0 1151.1,582.4 Z" fill="#fff"/>
<ellipse cx="1165" cy="588" rx="27" ry="14" transform="rotate(22 1165 588)" fill="none" stroke="#666" stroke-width="1.4"/>
<path d="M1126.5,636 L1111,673" fill="none" stroke="#000" stroke-width="3.4" stroke-linecap="round" stroke-linejoin="round" />
<path d="M1150,642.5 L1135,677" fill="none" stroke="#000" stroke-width="3.4" stroke-linecap="round" stroke-linejoin="round" />
<path d="M1109,671 L1136,678 L1131,692 Q1124,700 1112,695 Q1104,690 1109,671 Z" fill="#000" stroke="#000" stroke-width="1.7" stroke-linecap="round" stroke-linejoin="round" />
<path d="M795.3,538.7 C797.4,537.2 804,532.8 808,530 C812,527.2 816.9,525.3 819.4,522.2 C821.9,519.1 821.7,515.3 822.8,511.2 C823.9,507.1 823.3,501.5 826.2,497.5 C829.1,493.5 835.8,489.9 840,487.2 C844.2,484.4 848,482.5 851.7,481 C855.4,479.5 858.6,474.8 862,478 C865.4,481.2 870,493 872,500 C874,507 874.2,514.1 874,520 C873.8,525.9 873.7,531.6 870.9,535.3 C868.1,539 862.4,541.1 857.2,542.2 C852.1,543.4 845.2,541.1 840,542.2 C834.8,543.3 831,545.6 826.2,549 C821.4,552.4 813.5,560.5 811,562.8Z" fill="#fff" stroke="#000" stroke-width="0" stroke-linecap="round" stroke-linejoin="round" />
<path d="M795.3,538.7 C797.4,537.2 804,532.8 808,530 C812,527.2 816.9,525.3 819.4,522.2 C821.9,519.1 821.7,515.3 822.8,511.2 C823.9,507.1 823.3,501.5 826.2,497.5 C829.1,493.5 835.8,489.9 840,487.2 C844.2,484.4 848,482.5 851.7,481 C855.4,479.5 860.3,478.5 862,478" fill="none" stroke="#000" stroke-width="5.3" stroke-linecap="round" stroke-linejoin="round" />
<path d="M811,562.8 C813.5,560.5 821.4,552.4 826.2,549 C831,545.6 834.8,543.3 840,542.2 C845.2,541.1 852.1,543.4 857.2,542.2 C862.4,541.1 868.6,536.4 870.9,535.3" fill="none" stroke="#000" stroke-width="3.9" stroke-linecap="round" stroke-linejoin="round" />
<ellipse cx="851" cy="527" rx="7" ry="16.5" transform="rotate(10 851 527)" fill="none" stroke="#000" stroke-width="3.4"/>
<ellipse cx="862.5" cy="524.5" rx="5" ry="13" transform="rotate(10 862.5 524.5)" fill="none" stroke="#000" stroke-width="3"/>
<path d="M831.7,498.9 L845.5,501.6" fill="none" stroke="#000" stroke-width="3.4" stroke-linecap="round" stroke-linejoin="round" />
<path d="M826.5,511 L838,511" fill="none" stroke="#000" stroke-width="2.8" stroke-linecap="round" stroke-linejoin="round" />
<path d="M825,525 C827.2,525.2 834.8,525.8 838,526.5 C841.2,527.2 843,528.6 844,529" fill="none" stroke="#000" stroke-width="3.4" stroke-linecap="round" stroke-linejoin="round" />
<ellipse cx="801.5" cy="554" rx="9" ry="16.5" transform="rotate(35 801.5 554)" fill="#050505" stroke="#000" stroke-width="2.3"/>
<ellipse cx="803" cy="555" rx="3" ry="7.5" transform="rotate(35 803 555)" fill="#777" stroke="#000" stroke-width="0"/>
<path d="M864,478 L878,474 L893,467 L906,460 L915,462.5 L916,478 L913,493 L903,497.5 L889,494 L876,484Z" fill="#111" stroke="#000" stroke-width="2.8" stroke-linecap="round" stroke-linejoin="round" />
<ellipse cx="909" cy="472" rx="2.5" ry="4" transform="rotate(10 909 472)" fill="#fff" stroke="#000" stroke-width="0"/>
<ellipse cx="904" cy="487" rx="3.2" ry="2.6" transform="rotate(0 904 487)" fill="#fff" stroke="#000" stroke-width="0"/>
<ellipse cx="894" cy="488" rx="2" ry="2" transform="rotate(0 894 488)" fill="#999" stroke="#000" stroke-width="0"/>
<path d="M259.4,117.5 C262.2,116.5 271.4,113.2 276.2,111.2 C281.1,109.3 284.6,107.6 288.8,105.6 C292.9,103.6 297.6,100.6 301.2,99.4 C304.9,98.2 308,98.1 310.6,98.4 C313.2,98.8 315.1,99.9 317,101.5 C318.9,103.1 320.4,105.4 322,108 C323.6,110.6 325.2,113.8 326.5,117 C327.8,120.2 329.2,124 330,127 C330.8,130 331.2,132.5 331.2,135 C331.3,137.5 330.9,140.1 330.3,142 C329.7,143.9 329.2,145 327.5,146.2 C325.8,147.5 323.3,148 320,149.4 C316.7,150.8 311.2,152.8 307.5,154.4 C303.8,156 301.1,157.5 298,158.8 C294.9,160 291.1,161 288.8,161.9 C286.4,162.8 284.6,164 283.8,164.4" fill="#fff" stroke="#000" stroke-width="3.4" stroke-linecap="round" stroke-linejoin="round" />
<ellipse cx="272.5" cy="141.5" rx="15" ry="25.5" transform="rotate(-25 272.5 141.5)" fill="#000" stroke="#000" stroke-width="2.9"/>
<ellipse cx="267" cy="142" rx="3.5" ry="8" transform="rotate(-20 267 142)" fill="#fff" stroke="#000" stroke-width="0"/>
<ellipse cx="276" cy="146.5" rx="4" ry="8.5" transform="rotate(-20 276 146.5)" fill="#fff" stroke="#000" stroke-width="0"/>
<path d="M282,124 C282.8,126 286,131.7 287,136 C288,140.3 288.3,145.7 288,150 C287.7,154.3 285.5,160 285,162" fill="none" stroke="#000" stroke-width="3.4" stroke-linecap="round" stroke-linejoin="round" />
<path d="M333.8,75 C335.6,73.5 341,69 345,66.2 C349,63.5 352.9,60.8 357.5,58.8 C362.1,56.7 368.3,55 372.5,53.8 C376.7,52.5 378.8,51.6 382.5,51.2 C386.2,50.9 391.7,50.9 395,51.9 C398.3,52.9 400,54.5 402.5,57.5 C405,60.5 407.8,66.1 410,70 C412.2,73.9 414.1,77.2 415.5,81 C416.9,84.8 417.8,89.2 418.5,92.5 C419.2,95.8 419.8,99.6 420,101 L461.25,140 L640,294 L662,309" fill="none" stroke="#000" stroke-width="3" stroke-linecap="round" stroke-linejoin="round" />
<path d="M333.8,75 C333.8,77.5 333.8,85 334.2,90 C334.6,95 334.9,100.4 336,105 C337.1,109.6 338.9,113.5 341,117.5 C343.1,121.5 346,126 348.8,129 C351.5,132 354.4,134.3 357.5,135.5 C360.6,136.7 364.4,136.5 367.5,136 C370.6,135.5 373.4,132.8 376,132.5 C378.6,132.2 381.8,133.8 383,134" fill="none" stroke="#000" stroke-width="3.2" stroke-linecap="round" stroke-linejoin="round" />
<ellipse cx="355.5" cy="103.5" rx="14.5" ry="22.5" transform="rotate(-22 355.5 103.5)" fill="none" stroke="#000" stroke-width="3.4"/>
<path d="M373.5,90 C374.6,91.5 378.7,95.4 380,98.8 C381.3,102.1 381.7,106.3 381.5,110 C381.3,113.7 380.5,117.7 379,121 C377.5,124.3 373.6,128.5 372.5,130" fill="none" stroke="#000" stroke-width="3.2" stroke-linecap="round" stroke-linejoin="round" />
<path d="M373.8,63.8 C375.2,65 379.8,68 382.5,71.2 C385.2,74.5 388.8,81 390,83" fill="none" stroke="#000" stroke-width="3" stroke-linecap="round" stroke-linejoin="round" />
<path d="M400,78 C401.2,78.8 405.2,80.5 407.5,83 C409.8,85.5 412.9,91.3 414,93" fill="none" stroke="#000" stroke-width="3" stroke-linecap="round" stroke-linejoin="round" />
<path d="M378,93 L385,109 L440,157.3 L620,316.5" fill="none" stroke="#000" stroke-width="6.3" stroke-linecap="round" stroke-linejoin="round" />
<path d="M386,110 L440,157.3" fill="none" stroke="#000" stroke-width="2.3" stroke-linecap="round" stroke-linejoin="round" />
<path d="M383,134 L440,184 L540,273 L617,341" fill="none" stroke="#000" stroke-width="3" stroke-linecap="round" stroke-linejoin="round" />
<path d="M484,201 L494,214 L500,214" fill="none" stroke="#000" stroke-width="2.5" stroke-linecap="round" stroke-linejoin="round" />
<path d="M496,205 L504,214" fill="none" stroke="#000" stroke-width="2.5" stroke-linecap="round" stroke-linejoin="round" />
<path d="M560,262 L618.5,309.7 L641,325" fill="none" stroke="#000" stroke-width="2.8" stroke-linecap="round" stroke-linejoin="round" />
<path d="M661.3,307.3 C662.3,307.5 664.8,307.7 667.2,308.5 C669.6,309.3 672.5,309.8 675.5,312 C678.5,314.2 681.8,318 685,321.6 C688.2,325.2 691.3,329.9 694.5,333.4 C697.7,336.9 700,340.9 704,342.5 C708,344.1 714.7,343.7 718.3,343 C721.9,342.3 723,338.8 725.4,338.2 C727.8,337.6 729.3,337.6 732.5,339.4 C735.7,341.2 740.4,344.5 744.4,348.9 C748.4,353.2 753.3,359.6 756.3,365.5 C759.3,371.4 761.4,378.9 762.2,384.5 C763,390.1 762.4,394.8 761,398.8 C759.6,402.8 758.6,405.1 753.9,408.3 C749.1,411.5 739.5,414.7 732.5,417.8 C725.5,420.9 716.8,425 712,427 C707.2,429 705.3,429.5 704,430" fill="none" stroke="#000" stroke-width="3.2" stroke-linecap="round" stroke-linejoin="round" />
<ellipse cx="636.2" cy="362.5" rx="18.5" ry="27.5" transform="rotate(-22 636.2 362.5)" fill="#fff" stroke="#000" stroke-width="3.4"/>
<ellipse cx="690" cy="398.8" rx="20" ry="32.5" transform="rotate(-20 690 398.8)" fill="#fff" stroke="#000" stroke-width="3.4"/>
<path d="M650,345 L668,356 L673,356" fill="none" stroke="#000" stroke-width="3" stroke-linecap="round" stroke-linejoin="round" />
<path d="M645,389 L670,390" fill="none" stroke="#000" stroke-width="3" stroke-linecap="round" stroke-linejoin="round" />
<path d="M672,356 L670,390" fill="none" stroke="#000" stroke-width="3" stroke-linecap="round" stroke-linejoin="round" />
<path d="M617,340 C617.5,342 618.5,345.7 620,352 C621.5,358.3 625,373.7 626,378" fill="none" stroke="#000" stroke-width="3.4" stroke-linecap="round" stroke-linejoin="round" />
<path d="M514.4,390.5 C517,389.1 524.5,385 530,382 C535.5,379 543.1,374.1 547.4,372.4 C551.7,370.7 553.6,371.1 556,372 C558.4,372.9 560,375.3 562,378 C564,380.7 566.1,384 568,388 C569.9,392 572.4,397.8 573.5,402 C574.6,406.2 575,410.1 574.5,413 C574,415.9 573.8,417 570.5,419.5 C567.2,422 560.5,425.4 555,428 C549.5,430.6 542.8,432.9 537.8,435.1 C532.8,437.4 527.1,440.4 525,441.5" fill="#fff" stroke="#000" stroke-width="3.4" stroke-linecap="round" stroke-linejoin="round" />
<ellipse cx="516" cy="417" rx="16.5" ry="27" transform="rotate(-18 516 417)" fill="#000" stroke="#000" stroke-width="2.9"/>
<ellipse cx="511.2" cy="412.3" rx="5.3" ry="12.2" transform="rotate(-12 511.2 412.3)" fill="#fff" stroke="#000" stroke-width="0"/>
<ellipse cx="523" cy="420.3" rx="5.3" ry="11" transform="rotate(-12 523 420.3)" fill="#fff" stroke="#000" stroke-width="0"/>
<path d="M582.5,413.9 C585.4,412.6 594.2,408.6 600,406 C605.8,403.4 612.8,399.4 617.5,398 C622.2,396.6 625,396.7 628.2,397.5 C631.5,398.3 634.4,401 637,403 C639.6,405 641.6,406 644,409.6 C646.4,413.2 650.2,418.6 651.5,424.5 C652.8,430.4 653,439.9 651.8,444.7 C650.5,449.5 647.6,450.9 644,453.2 C640.4,455.5 634.8,456.7 630,458.5 C625.2,460.3 620.1,462.1 615.4,463.8 C610.7,465.6 603.9,468.1 601.6,469" fill="#fff" stroke="#000" stroke-width="3.4" stroke-linecap="round" stroke-linejoin="round" />
<ellipse cx="592" cy="441.5" rx="15.5" ry="28.5" transform="rotate(-18 592 441.5)" fill="#000" stroke="#000" stroke-width="2.9"/>
<ellipse cx="587.7" cy="441.5" rx="4.3" ry="8.8" transform="rotate(-12 587.7 441.5)" fill="#fff" stroke="#000" stroke-width="0"/>
<ellipse cx="598" cy="444" rx="6.3" ry="13.3" transform="rotate(-12 598 444)" fill="#fff" stroke="#000" stroke-width="0"/>
<path d="M960,99 L960,138" fill="none" stroke="#000" stroke-width="3.2" stroke-linejoin="miter" stroke-linecap="square"/>
<path d="M857.3,491 L857.3,138.5 L1073,138.5 L1073,189" fill="none" stroke="#000" stroke-width="3.2" stroke-linejoin="miter" stroke-linecap="square"/>
<path d="M1079,256 L1079,300" fill="none" stroke="#000" stroke-width="3.2" stroke-linejoin="miter" stroke-linecap="square"/>
<path d="M1172,620 L1223.6,620 L1223.6,858.8 L1106,858.8 L1075,827.5" fill="none" stroke="#000" stroke-width="3.2" stroke-linejoin="miter" stroke-linecap="square"/>
<path d="M1132.5,720 L1223.6,720" fill="none" stroke="#000" stroke-width="3.2" stroke-linejoin="miter" stroke-linecap="square"/>
<path d="M1115,783.8 L1223.6,783.8" fill="none" stroke="#000" stroke-width="3.2" stroke-linejoin="miter" stroke-linecap="square"/>
<path d="M1223.6,730 L1370,876 L1370.5,1131" fill="none" stroke="#000" stroke-width="3.2" stroke-linejoin="miter" stroke-linecap="square"/>
<path d="M284.5,169 L284.5,273" fill="none" stroke="#000" stroke-width="3.2" stroke-linejoin="miter" stroke-linecap="square"/>
<path d="M431,406.4 L500,406.4" fill="none" stroke="#000" stroke-width="5" stroke-linejoin="miter" stroke-linecap="square"/>
<path d="M439,501 L541,501 L582.5,460" fill="none" stroke="#000" stroke-width="3.2" stroke-linejoin="miter" stroke-linecap="square"/>
<path d="M748,907.8 L807,907.8 L807,1127.4 L738,1127.4" fill="none" stroke="#000" stroke-width="3.2" stroke-linejoin="miter" stroke-linecap="square"/>
<path d="M764,1019.3 L807,1019.3" fill="none" stroke="#000" stroke-width="3.2" stroke-linejoin="miter" stroke-linecap="square"/>
<path d="M762,1072 L807,1072" fill="none" stroke="#000" stroke-width="3.2" stroke-linejoin="miter" stroke-linecap="square"/>
<path d="M807,1035 L858,1035 L877.4,1053 L877.4,1164.6 L1159.5,1164.6" fill="none" stroke="#000" stroke-width="3.2" stroke-linejoin="miter" stroke-linecap="square"/>
<path d="M1028,1200 L1083.6,1200 L1083.6,1458.6 L990,1458.6" fill="none" stroke="#000" stroke-width="3.2" stroke-linejoin="miter" stroke-linecap="square"/>
<path d="M1042,1256.5 L1083.6,1256.5" fill="none" stroke="#000" stroke-width="3.2" stroke-linejoin="miter" stroke-linecap="square"/>
<path d="M1035,1316.5 L1083.6,1316.5" fill="none" stroke="#000" stroke-width="3.2" stroke-linejoin="miter" stroke-linecap="square"/>
<path d="M1083.6,1338.2 L1231.2,1338.2 L1366.8,1199" fill="none" stroke="#000" stroke-width="3.2" stroke-linejoin="miter" stroke-linecap="square"/>
<path d="M477,1378 L477,1496" fill="none" stroke="#000" stroke-width="3.2" stroke-linejoin="miter" stroke-linecap="square"/>
<rect x="849.2" y="490.2" width="19.5" height="19.5" fill="#000"/>
<rect x="1072" y="300" width="16.5" height="16.5" fill="#000"/>
<rect x="1156" y="610.5" width="16.2" height="18.5" fill="#000"/>
<rect x="728.8" y="896.2" width="20" height="21.2" fill="#000"/>
<rect x="975.5" y="1450" width="16.5" height="16.5" fill="#000"/>
<rect x="466" y="1496" width="22" height="22" fill="#000"/>
<rect x="826" y="32.6" width="288.1" height="64.7" fill="#fff" stroke="#000" stroke-width="4.5"/>
<text transform="translate(827.6 88.5) scale(0.6364 0.6904)" font-family="Liberation Sans" font-weight="bold" font-size="100" fill="#000" stroke="#fff" stroke-width="1.0" vector-effect="non-scaling-stroke">HARM-09</text>
<rect x="942.2" y="191.2" width="274.5" height="63" fill="#fff" stroke="#000" stroke-width="4.5"/>
<text transform="translate(943.8 246.5) scale(0.6217 0.6831)" font-family="Liberation Sans" font-weight="bold" font-size="100" fill="#000" stroke="#fff" stroke-width="1.0" vector-effect="non-scaling-stroke">MAB-049</text>
<rect x="105.2" y="275.2" width="407.5" height="61.5" fill="#fff" stroke="#000" stroke-width="4.5"/>
<text transform="translate(105.3 330.5) scale(0.6293 0.6868)" font-family="Liberation Sans" font-weight="bold" font-size="100" fill="#000" stroke="#fff" stroke-width="1.0" vector-effect="non-scaling-stroke">MAB-157RUB</text>
<rect x="158.7" y="373.2" width="270.1" height="63.5" fill="#fff" stroke="#000" stroke-width="4.5"/>
<text transform="translate(162.4 429.5) scale(0.6120 0.6977)" font-family="Liberation Sans" font-weight="bold" font-size="100" fill="#000" stroke="#fff" stroke-width="1.0" vector-effect="non-scaling-stroke">MAB-071</text>
<rect x="159.2" y="472.6" width="277.5" height="57.5" fill="#fff" stroke="#000" stroke-width="4.5"/>
<text transform="translate(165.3 526.1) scale(0.6220 0.6773)" font-family="Liberation Sans" font-weight="bold" font-size="100" fill="#000" stroke="#fff" stroke-width="1.0" vector-effect="non-scaling-stroke">MAB-088</text>
<rect x="1161.8" y="1133.7" width="339.4" height="63" fill="#fff" stroke="#000" stroke-width="4.5"/>
<text transform="translate(1164.9 1189.9) scale(0.6378 0.6948)" font-family="Liberation Sans" font-weight="bold" font-size="100" fill="#000" stroke="#fff" stroke-width="1.0" vector-effect="non-scaling-stroke">0420-CT9R</text>
<rect x="345.2" y="1312.2" width="277.5" height="63.5" fill="#fff" stroke="#000" stroke-width="4.5"/>
<text transform="translate(347.3 1367.5) scale(0.6253 0.6977)" font-family="Liberation Sans" font-weight="bold" font-size="100" fill="#000" stroke="#fff" stroke-width="1.0" vector-effect="non-scaling-stroke">MAB-064</text>
</g>
</svg></body></html>
